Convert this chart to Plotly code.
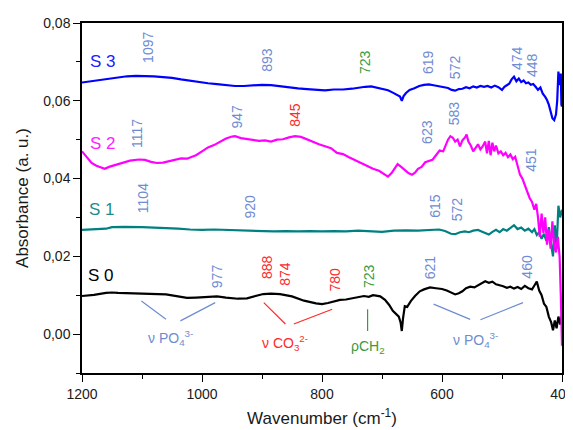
import plotly.graph_objects as go

# ---------------- data ----------------
s0_x = [1200,1180,1160,1150,1140,1120,1100,1080,1060,1040,1025,1010,990,975,960,940,925,910,898,885,870,850,830,810,800,790,780,770,760,750,740,730,722,715,710,703,695,688,682,676,672,669,667,665,662,658,652,645,637,630,620,610,600,592,585,578,572,566,560,553,546,540,534,528,522,516,510,504,498,492,486,480,474,468,462,456,450,446,442,438,434,430,426,422,418,415,412,409,406,403,400]
s0_y = [0.0098,0.0101,0.0106,0.0107,0.0106,0.0105,0.0104,0.0103,0.0102,0.0097,0.0093,0.0094,0.0095,0.0097,0.0094,0.0091,0.0092,0.0098,0.0103,0.0104,0.0103,0.0097,0.0086,0.0079,0.0077,0.0080,0.0084,0.0088,0.0089,0.0092,0.0095,0.0098,0.0096,0.0100,0.0099,0.0097,0.0088,0.0075,0.0060,0.0052,0.0045,0.0030,0.0008,0.0040,0.0072,0.0070,0.0085,0.0098,0.0110,0.0115,0.0120,0.0118,0.0116,0.0112,0.0106,0.0102,0.0105,0.0110,0.0118,0.0122,0.0120,0.0126,0.0130,0.0136,0.0132,0.0135,0.0128,0.0126,0.0123,0.0119,0.0122,0.0117,0.0121,0.0116,0.0124,0.0118,0.0115,0.0125,0.0135,0.0112,0.0100,0.0078,0.0070,0.0045,0.0030,0.0010,0.0035,0.0015,0.0045,0.0025,0.0050]

s1_x = [1200,1180,1160,1150,1130,1100,1080,1060,1040,1020,1000,980,960,940,920,900,880,860,840,820,800,780,760,740,720,700,680,660,640,620,605,595,585,578,570,562,555,548,540,534,528,522,516,510,504,498,492,486,480,474,468,462,456,450,446,442,438,434,430,426,422,418,415,412,409,406,403,400]
s1_y = [0.0268,0.0270,0.0271,0.0275,0.0276,0.0275,0.0274,0.0273,0.0271,0.0269,0.0268,0.0269,0.0268,0.0268,0.0267,0.0266,0.0264,0.0265,0.0264,0.0265,0.0264,0.0265,0.0264,0.0266,0.0265,0.0263,0.0266,0.0267,0.0266,0.0268,0.0269,0.0265,0.0258,0.0257,0.0262,0.0264,0.0262,0.0266,0.0268,0.0264,0.0261,0.0256,0.0263,0.0268,0.0262,0.0270,0.0266,0.0272,0.0280,0.0270,0.0274,0.0266,0.0271,0.0262,0.0270,0.0255,0.0262,0.0245,0.0258,0.0240,0.0275,0.0230,0.0200,0.0280,0.0220,0.0330,0.0300,0.0320]

s2_x = [1200,1192,1184,1176,1168,1162,1155,1145,1135,1120,1105,1095,1085,1075,1065,1055,1045,1035,1025,1018,1010,1000,990,980,970,960,950,945,935,925,915,905,895,885,875,865,855,845,835,825,815,805,795,785,775,765,755,745,735,725,715,705,695,690,684,678,674,668,662,656,650,645,640,634,628,622,616,610,604,598,594,590,586,582,578,574,570,566,562,559,556,552,548,544,540,536,532,528,525,522,519,516,513,510,506,502,498,494,490,486,482,478,474,470,466,462,458,454,450,446,443,440,437,434,431,428,425,422,419,416,413,410,407,404,402,401,400]
s2_y = [0.0470,0.0455,0.0440,0.0433,0.0429,0.0425,0.0430,0.0434,0.0440,0.0446,0.0449,0.0448,0.0443,0.0440,0.0441,0.0445,0.0450,0.0452,0.0451,0.0455,0.0460,0.0470,0.0480,0.0486,0.0494,0.0503,0.0508,0.0509,0.0504,0.0502,0.0500,0.0497,0.0498,0.0495,0.0500,0.0501,0.0506,0.0509,0.0507,0.0500,0.0494,0.0488,0.0483,0.0478,0.0466,0.0463,0.0455,0.0447,0.0440,0.0433,0.0425,0.0420,0.0410,0.0405,0.0414,0.0430,0.0437,0.0430,0.0423,0.0414,0.0410,0.0415,0.0425,0.0430,0.0442,0.0446,0.0448,0.0460,0.0472,0.0470,0.0485,0.0500,0.0509,0.0505,0.0495,0.0500,0.0483,0.0498,0.0505,0.0513,0.0495,0.0485,0.0470,0.0478,0.0488,0.0475,0.0483,0.0495,0.0465,0.0497,0.0460,0.0492,0.0470,0.0485,0.0465,0.0470,0.0460,0.0466,0.0455,0.0462,0.0450,0.0456,0.0430,0.0410,0.0400,0.0382,0.0365,0.0350,0.0340,0.0320,0.0335,0.0300,0.0250,0.0310,0.0260,0.0300,0.0230,0.0270,0.0220,0.0290,0.0225,0.0210,0.0250,0.0200,0.0100,0.0000,-0.0030]

s3_x = [1200,1185,1170,1155,1140,1125,1110,1095,1080,1065,1050,1035,1020,1005,990,975,960,945,930,915,900,885,870,855,840,825,810,795,780,765,750,740,728,718,708,698,690,682,675,670,667,664,660,654,646,638,630,622,614,606,598,590,584,578,572,566,560,554,548,542,536,530,524,518,512,506,500,496,492,488,484,480,476,472,468,464,460,456,452,448,444,440,436,432,428,425,422,419,416,413,410,408,406,404,402,401,400]
s3_y = [0.0647,0.0650,0.0654,0.0657,0.0660,0.0663,0.0664,0.0664,0.0663,0.0661,0.0659,0.0655,0.0651,0.0648,0.0645,0.0643,0.0640,0.0638,0.0638,0.0640,0.0641,0.0640,0.0637,0.0634,0.0632,0.0630,0.0629,0.0627,0.0629,0.0629,0.0631,0.0634,0.0636,0.0637,0.0634,0.0631,0.0627,0.0621,0.0614,0.0611,0.0600,0.0612,0.0620,0.0628,0.0632,0.0638,0.0641,0.0642,0.0640,0.0638,0.0636,0.0633,0.0628,0.0626,0.0630,0.0631,0.0635,0.0632,0.0637,0.0634,0.0638,0.0636,0.0638,0.0634,0.0639,0.0635,0.0628,0.0636,0.0640,0.0644,0.0655,0.0662,0.0650,0.0657,0.0648,0.0652,0.0645,0.0647,0.0641,0.0643,0.0636,0.0628,0.0634,0.0618,0.0610,0.0602,0.0590,0.0572,0.0555,0.0550,0.0565,0.0600,0.0675,0.0640,0.0670,0.0590,0.0585]

series_names = ["S 0", "S 1", "S 2", "S 3"]
series_colors = ["#000000", "#008080", "#FF00FF", "#0000FF"]

# peak labels: (text, x position in cm-1, y position, colour key)
peak_text = ["1097","893","723","619","572","474","448",
             "1117","947","845","623","583","451",
             "1104","920","615","572",
             "977","888","874","780","723","621","460"]
peak_x = [1090,892,728,623,578,475,450,
          1108,942,845,625,581,453,
          1097,920,611,575,
          975,892,861,778,722,620,458]
peak_y = [0.0736,0.0705,0.0700,0.0700,0.0687,0.0710,0.0692,
          0.0515,0.0559,0.0564,0.0520,0.0569,0.0449,
          0.0349,0.0328,0.0331,0.0321,
          0.0149,0.0172,0.0156,0.0141,0.0149,0.0172,0.0174]
peak_kind = ["b","b","g","b","b","b","b",
             "b","b","r","b","b","b",
             "b","b","b","b",
             "b","r","r","r","g","b","b"]

label_x = [1168, 1167, 1165, 1165]
label_y = [0.0151, 0.0320, 0.0489, 0.0700]
label_colors = ["#000000", "#1E8C8C", "#FF22FF", "#2020FF"]

BLUE = "#6F8CD2"
RED = "#FF2A2A"
GREEN = "#3C9A3C"
kind_color = {"b": BLUE, "r": RED, "g": GREEN}

FONT = "Liberation Sans, Arial, sans-serif"
DARK = "#1a1a1a"

fig = go.Figure()
for xs, ys, name, col in zip([s0_x, s1_x, s2_x, s3_x], [s0_y, s1_y, s2_y, s3_y], series_names, series_colors):
    fig.add_trace(go.Scatter(x=xs, y=ys, mode="lines", name=name,
                             line=dict(color=col, width=2.2), showlegend=False))

ann = []
for t, x, y, k in zip(peak_text, peak_x, peak_y, peak_kind):
    ann.append(dict(x=x, y=y, text=t, textangle=-90, showarrow=False,
                    font=dict(family=FONT, size=14, color=kind_color[k])))
for t, x, y, c in zip(series_names, label_x, label_y, label_colors):
    ann.append(dict(x=x, y=y, text=t, showarrow=False,
                    font=dict(family=FONT, size=17, color=c)))

# band assignment texts
ann.append(dict(x=1053, y=-0.0010, text="ν PO<sub>4</sub><sup>3-</sup>", showarrow=False,
                font=dict(family=FONT, size=14, color=BLUE)))
ann.append(dict(x=861, y=-0.0022, text="ν CO<sub>3</sub><sup>2-</sup>", showarrow=False,
                font=dict(family=FONT, size=14, color=RED)))
ann.append(dict(x=724, y=-0.0034, text="ρCH<sub>2</sub>", showarrow=False,
                font=dict(family=FONT, size=14, color=GREEN)))
ann.append(dict(x=545, y=-0.0014, text="ν PO<sub>4</sub><sup>3-</sup>", showarrow=False,
                font=dict(family=FONT, size=14, color=BLUE)))

# leader lines
lines = [
    (1101, 0.0085, 1060, 0.0038, BLUE),
    (1036, 0.0034, 978, 0.0081, BLUE),
    (897, 0.0081, 861, 0.0026, RED),
    (847, 0.0026, 783, 0.0064, RED),
    (724, 0.0064, 724, 0.0008, GREEN),
    (614, 0.0077, 553, 0.0038, BLUE),
    (536, 0.0037, 465, 0.0081, BLUE),
]
shapes = [dict(type="line", xref="x", yref="y", x0=a, y0=b, x1=c, y1=d,
               line=dict(color=col, width=1.2)) for a, b, c, d, col in lines]

# the page body adds an 8px offset; size the figure so the plot lands where the reference has it
fig.update_layout(
    width=567, height=422,
    margin=dict(l=74, r=13, t=15, b=57),
    paper_bgcolor="white", plot_bgcolor="white",
    separators=",.",
    annotations=ann, shapes=shapes,
    font=dict(family=FONT, color=DARK),
)
fig.update_xaxes(range=[1200, 400], tick0=400, dtick=200, automargin=False,
                 ticklabeloverflow="allow",
                 ticks="outside", ticklen=7, tickwidth=1.3, tickcolor="black",
                 minor=dict(dtick=100, ticks="outside", ticklen=4, tickcolor="black"),
                 showline=True, linecolor="black", linewidth=1.5, mirror=True,
                 showgrid=False, zeroline=False,
                 tickfont=dict(family=FONT, size=14, color=DARK),
                 title=dict(text="Wavenumber (cm<sup>-1</sup>)", standoff=12,
                            font=dict(family=FONT, size=17, color=DARK)))
fig.update_yaxes(range=[-0.01, 0.08], tick0=0, dtick=0.02, tickformat=".2f", automargin=False,
                 ticklabeloverflow="allow",
                 ticks="outside", ticklen=7, tickwidth=1.3, tickcolor="black",
                 minor=dict(dtick=0.01, ticks="outside", ticklen=4, tickcolor="black"),
                 showline=True, linecolor="black", linewidth=1.5, mirror=True,
                 showgrid=False, zeroline=False,
                 tickfont=dict(family=FONT, size=14, color=DARK),
                 title=dict(text="Absorbance (a. u.)", standoff=10,
                            font=dict(family=FONT, size=17, color=DARK)))

fig.write_html("out.html")
